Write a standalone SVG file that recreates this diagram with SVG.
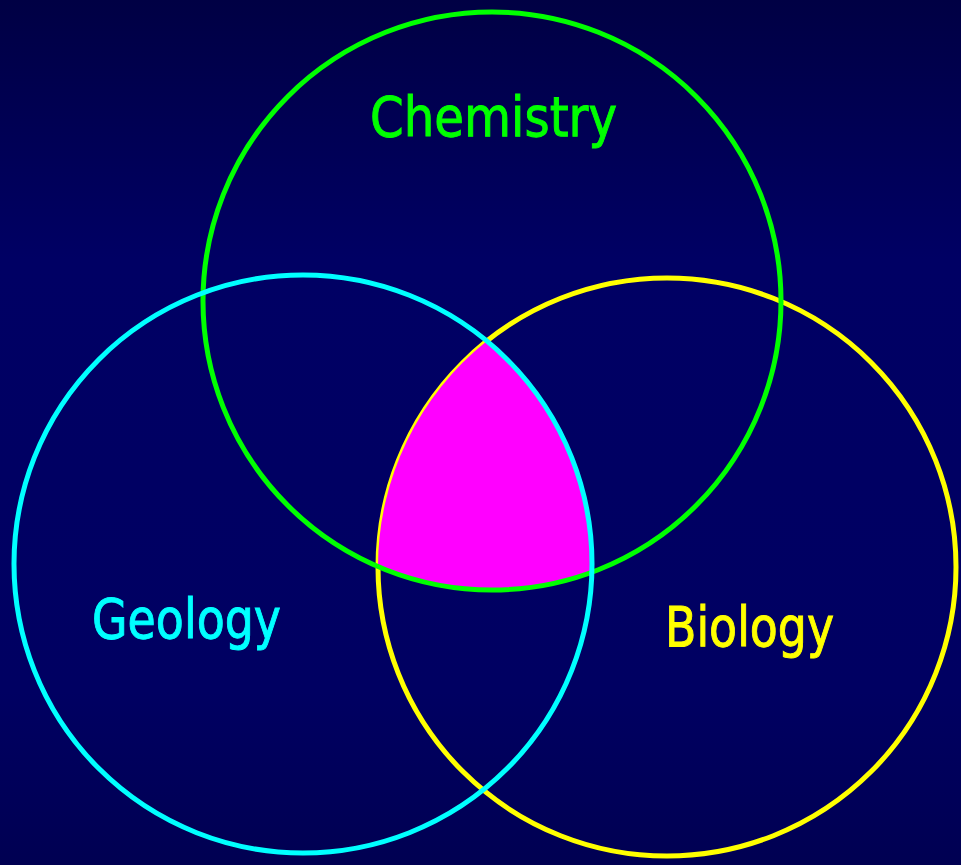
<svg xmlns="http://www.w3.org/2000/svg" width="961" height="865" viewBox="0 0 961 865">
  <defs>
    <linearGradient id="bg" x1="0" y1="0" x2="0" y2="1">
      <stop offset="0" stop-color="#000044"/>
      <stop offset="0.3" stop-color="#000064"/>
      <stop offset="0.8" stop-color="#000062"/>
      <stop offset="1" stop-color="#000052"/>
    </linearGradient>
  </defs>
  <style>
    .ring { fill: none; stroke-width: 5; }
    .label { font-family: "Comic Sans MS", "DejaVu Sans", "Liberation Sans", sans-serif; font-size: 56px; stroke-width: 1; }
  </style>
  <rect x="0" y="0" width="961" height="865" fill="url(#bg)"/>
  <g id="biology">
    <circle class="ring" cx="667" cy="567" r="289" stroke="#ffff00"/>
    <text class="label" x="665" y="646" fill="#ffff00" stroke="#ffff00" textLength="169" lengthAdjust="spacingAndGlyphs">Biology</text>
  </g>
  <g id="intersection">
    <path d="M486.85,341 A289,289 0 0 0 378,566.6 A289,289 0 0 0 591.9,572.2 A289,289 0 0 0 486.85,341 Z" fill="#ff00ff"/>
  </g>
  <g id="chemistry">
    <circle class="ring" cx="492" cy="301" r="289" stroke="#00ff00"/>
    <text class="label" x="370" y="136" fill="#00ff00" stroke="#00ff00" textLength="247" lengthAdjust="spacingAndGlyphs">Chemistry</text>
  </g>
  <g id="geology">
    <circle class="ring" cx="303" cy="564" r="289" stroke="#00ffff"/>
    <text class="label" x="92" y="638" fill="#00ffff" stroke="#00ffff" textLength="189" lengthAdjust="spacingAndGlyphs">Geology</text>
  </g>
  <g id="connectors"/>
</svg>
